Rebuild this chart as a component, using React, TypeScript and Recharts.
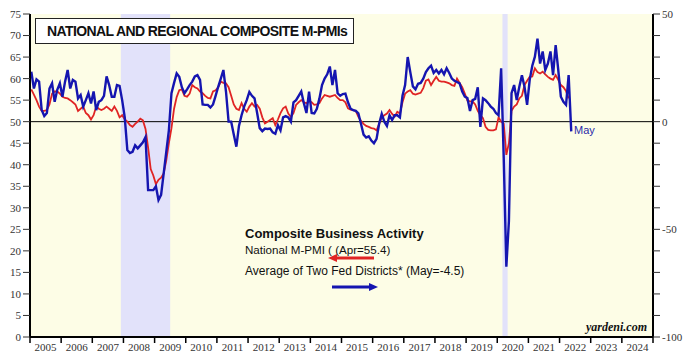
import React from 'react';
import {
  ComposedChart,
  Line,
  XAxis,
  YAxis,
  CartesianGrid,
  ReferenceArea,
  ReferenceLine,
} from 'recharts';

// monthly, starting Jan 2005
const nationalPmi = [
  57.5, 56.3, 55, 53.5, 52.5, 52.5, 52.7, 54, 56.5, 57, 57, 56.5, // 2005
  55.8, 55.5, 55.4, 55, 54.5, 54, 52.5, 53, 53.5, 52, 51.5, 50.5, // 2006
  51.5, 53.5, 53, 52.7, 53, 53.5, 53, 52.5, 53.5, 52.5, 51, 51.5, // 2007
  50.5, 50, 49.2, 48.8, 49.5, 50, 50.7, 50.3, 48.3, 44, 39, 37.5, // 2008
  35.5, 36.5, 37, 38, 41, 45, 48.5, 53, 55.7, 57.3, 57.5, 56, // 2009
  55.8, 56.5, 58.5, 58, 57.7, 57, 56.6, 56, 55.5, 55.4, 57, 57.3, // 2010
  58, 59.3, 59, 58.9, 58, 56, 54, 53, 52.7, 54.3, 53, 52.3, // 2011
  53.5, 54.3, 53.5, 53.9, 53, 51, 49.6, 50, 50.4, 50.8, 49.2, 50.5, // 2012
  52, 53.1, 53.5, 51.9, 51.1, 52, 53.9, 54.5, 55, 54.5, 54.3, 54.8, // 2013
  54.5, 53.9, 54, 54.3, 55.4, 56.2, 56, 55.8, 56, 56.2, 55.5, 55, // 2014
  55, 54.5, 53.1, 52.8, 52.7, 52.5, 51.1, 50.2, 49.5, 49, 48.8, 48.5, // 2015
  48.4, 48, 49.5, 51, 51.5, 51.9, 52.7, 51.8, 51.2, 52.3, 51.9, 54.5, // 2016
  56.5, 57, 57.3, 56.5, 56.3, 56.5, 56.7, 57.8, 59.5, 59.8, 58.5, 59.5, // 2017
  60.4, 59.5, 59.3, 59.3, 59.1, 58.9, 58.5, 58.3, 60, 59, 58, 56.5, // 2018
  54.9, 54.7, 54.7, 54, 52.5, 51.5, 50.8, 48.8, 48.1, 48, 48, 48.2, // 2019
  51, 50, 49.5, 42.3, 45, 52.5, 53.5, 54, 55.4, 56, 58.5, 59.5, // 2020
  60.4, 60.5, 62.4, 61.5, 61.2, 61.6, 61, 60.4, 60, 59.7, 60.8, 59.7, // 2021
  58.5, 58, 57.1, 55.4, // 2022
];

// average of two Fed district surveys, right axis
const fedDistricts = [
  23.2, 15.4, 19.6, 18.6, 5.4, 2.6, 4, 15.4, 17.8, 9.2, 14.8, 17.8, // 2005
  11.6, 18.6, 24, 15.4, 19.4, 18.6, 10.8, 12.4, 7, 10, 13.2, 8.4, // 2006
  14, 5.4, 9.2, 10, 12, 21, 17, 11.6, 11.6, 17, 16.6, 10, // 2007
  2, -13.2, -14.6, -14, -11, -12.4, -11, -9.6, -7.2, -31.8, -31.8, -31.8, // 2008
  -30, -36.4, -34, -24, -14, -4, 13.2, 18, 22.4, 20.8, 16, 13.2, // 2009
  15, 17, 18.6, 21, 21.6, 19.4, 8, 7.8, 7.8, 6.6, 8, 12, // 2010
  16.2, 20, 24, 14, 0, 0, -6, -11.6, -2, 3, 7, 10, // 2011
  13.8, 12, 10.8, 4, -3, -4.4, -3.2, -3.4, -3.2, -5, -5.6, -1.6, // 2012
  -4, 2, 2.6, 2, 0, 9, 10, 12, 14, 8.6, 4, 14, // 2013
  4, 3.8, 6, 10.8, 17, 20, 22, 25.6, 17, 24, 13.2, 12, // 2014
  12.8, 13, 9, 6, 5.4, 5, 3.8, -1, -6, -7.4, -6.8, -8.8, // 2015
  -10, -8, -1, 3.6, 0, -2, 3, 0.8, 3, 3, 2, 12, // 2016
  17, 30, 23, 16.4, 15, 17.6, 18, 20, 23, 24.8, 26, 22.6, // 2017
  24, 22.4, 24, 22, 24.8, 22.6, 20, 19, 18.4, 17.8, 14, 11.6, // 2018
  11, 5, 10, 10.6, 16, -2.4, 10.8, 10, 8.6, 7, 6, 4, // 2019
  3, 24.8, -17, -67.4, -46, 13.2, 17, 10, 16.2, 21.6, 16.2, 7.8, // 2020
  19.4, 26, 30.2, 38.6, 27, 32.6, 24, 27, 32.6, 21.6, 35.6, 24, // 2021
  11.6, 9.2, 7.8, 21.6, -4.5, // 2022
];

const years = Array.from({ length: 21 }, (_, i) => 2005 + i);
const leftTicks = Array.from({ length: 16 }, (_, i) => i * 5);
const rightTicks = Array.from({ length: 16 }, (_, i) => -100 + i * 10);
const recessions = [
  [2007 + 11 / 12, 2009.5],
  [2020 + 2 / 12, 2020 + 4 / 12],
];

const data = fedDistricts.map((b, i) => ({
  t: 2005 + (i + 0.5) / 12,
  red: i < nationalPmi.length ? nationalPmi[i] : null,
  blue: b,
}));

const axisFont = { fontFamily: '"Liberation Serif", serif', fontSize: 11, fill: '#333' };
const sans = '"Liberation Sans", Arial, sans-serif';

const YearTick = (props: any) => {
  const { x, y, payload } = props;
  return (
    <g>
      <line x1={x} x2={x} y1={y} y2={y + 6} stroke="#000" strokeWidth={1.5} />
      {payload.value < 2025 && (
        <text x={x + 15.6} y={y + 14} textAnchor="middle" {...axisFont}>
          {payload.value}
        </text>
      )}
    </g>
  );
};

const App = () => {
  return (
    <div style={{ position: 'absolute', left: 0, top: 0, width: 700, height: 364, background: '#fff' }}>
      <ComposedChart width={700} height={364} data={data} margin={{ top: 14, right: 0, bottom: 0, left: 0 }}>
        <CartesianGrid horizontal={false} vertical={false} fill="#fdfde6" yAxisId="left" />
        <XAxis
          dataKey="t"
          type="number"
          domain={[2005, 2025]}
          ticks={years}
          tick={<YearTick />}
          tickLine={false}
          tickSize={0}
          tickMargin={0}
          interval={0}
          height={27}
          axisLine={{ stroke: '#000', strokeWidth: 2 }}
        />
        <XAxis
          xAxisId="top"
          orientation="top"
          dataKey="t"
          type="number"
          domain={[2005, 2025]}
          tick={false}
          tickLine={false}
          height={0}
          axisLine={{ stroke: '#000', strokeWidth: 2 }}
        />
        <YAxis
          yAxisId="left"
          domain={[0, 75]}
          ticks={leftTicks}
          interval={0}
          width={30}
          tickSize={7}
          tickMargin={2}
          tick={axisFont}
          tickLine={{ stroke: '#333' }}
          axisLine={{ stroke: '#000', strokeWidth: 2 }}
        />
        <YAxis
          yAxisId="right"
          orientation="right"
          domain={[-100, 50]}
          ticks={rightTicks}
          interval={0}
          width={47}
          tickSize={7}
          tickMargin={2}
          tick={axisFont}
          tickFormatter={(v: number) => (v % 50 === 0 ? String(v) : '')}
          tickLine={{ stroke: '#333' }}
          axisLine={{ stroke: '#000', strokeWidth: 2 }}
        />
        {recessions.map(([a, b], i) => (
          <ReferenceArea
            key={i}
            yAxisId="left"
            x1={a}
            x2={b}
            y1={0}
            y2={75}
            fill="#e2e2fa"
            fillOpacity={1}
            stroke="none"
          />
        ))}
        <ReferenceLine yAxisId="left" y={50} stroke="#000" strokeWidth={1} />
        <Line
          yAxisId="left"
          dataKey="red"
          stroke="#e02424"
          strokeWidth={1.8}
          dot={false}
          connectNulls={false}
          isAnimationActive={false}
        />
        <Line
          yAxisId="right"
          dataKey="blue"
          stroke="#1515b0"
          strokeWidth={2.4}
          dot={false}
          isAnimationActive={false}
        />
      </ComposedChart>

      <div
        style={{
          position: 'absolute',
          left: 35,
          top: 18,
          width: 319,
          height: 26,
          border: '1px solid #222',
          background: '#fff',
          boxSizing: 'border-box',
          fontFamily: sans,
          fontWeight: 'bold',
          fontSize: 14,
          letterSpacing: -0.6,
          lineHeight: '24px',
          paddingLeft: 11,
          color: '#111',
          whiteSpace: 'nowrap',
        }}
      >
        NATIONAL AND REGIONAL COMPOSITE M-PMIs
      </div>

      <div style={{ position: 'absolute', left: 245, top: 226, fontFamily: sans, color: '#111', whiteSpace: 'nowrap' }}>
        <div style={{ fontWeight: 'bold', fontSize: 13, lineHeight: '16px' }}>Composite Business Activity</div>
        <div style={{ fontSize: 11.6, lineHeight: '15px' }}>National M-PMI ( (Apr=55.4)</div>
      </div>
      <svg style={{ position: 'absolute', left: 328, top: 253 }} width={50} height={10}>
        <line x1={6} y1={5} x2={46} y2={5} stroke="#e02424" strokeWidth={3} />
        <polygon points="0,5 9,1 9,9" fill="#e02424" />
      </svg>
      <div style={{ position: 'absolute', left: 245, top: 264, fontFamily: sans, fontSize: 12, color: '#111', whiteSpace: 'nowrap' }}>
        Average of Two Fed Districts* (May=-4.5)
      </div>
      <svg style={{ position: 'absolute', left: 330, top: 282 }} width={50} height={10}>
        <line x1={2} y1={5} x2={42} y2={5} stroke="#1515b0" strokeWidth={3} />
        <polygon points="48,5 39,1 39,9" fill="#1515b0" />
      </svg>

      <div style={{ position: 'absolute', left: 574, top: 124, fontFamily: sans, fontSize: 11, color: '#2a2aa8' }}>
        May
      </div>
      <div
        style={{
          position: 'absolute',
          right: 53,
          top: 320,
          fontFamily: '"Liberation Serif", serif',
          fontStyle: 'italic',
          fontWeight: 'bold',
          fontSize: 12,
          color: '#111',
        }}
      >
        yardeni.com
      </div>
    </div>
  );
};

export default App;
